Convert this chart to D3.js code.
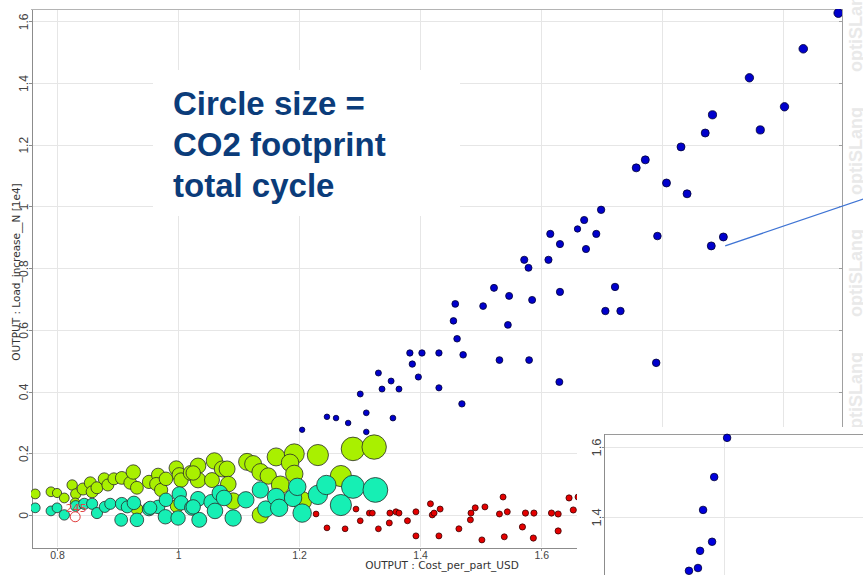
<!DOCTYPE html>
<html>
<head>
<meta charset="utf-8">
<style>
body { margin: 0; background: #fff; }
svg { display: block; }
.grid line { stroke: #e6e6e6; stroke-width: 1; shape-rendering: crispEdges; }
.axis path, .axis line { stroke: #8c8c8c; shape-rendering: crispEdges; }
.axis text { fill: #444; }
.title { font: 10.5px "DejaVu Sans", sans-serif; fill: #333; }
.note { font: bold 33px "Liberation Sans", Arial, sans-serif; fill: #0b3c7a; }
.mark { font: bold 18px "Liberation Sans", Arial, sans-serif; fill: #e9e9e9; }
</style>
</head>
<body>
<svg id="chart" width="863" height="575"></svg>
<script src="https://d3js.org/d3.v7.min.js"></script>
<script>

// Cost_per_part_USD (x), Load_increase__N [1e4] (y), CO2 footprint (size)
var blueX = [2.091,2.033,1.944,2.002,1.962,1.883,1.871,1.831,1.757,1.772,1.807,1.841,1.792,1.881,1.901,1.699,1.660,1.671,1.691,1.674,1.615,1.631,1.572,1.579,1.612,1.522,1.547,1.585,1.631,1.722,1.706,1.731,1.458,1.504,1.455,1.545,1.461,1.471,1.383,1.403,1.431,1.387,1.531,1.580,1.331,1.352,1.337,1.365,1.397,1.431,1.630,1.301,1.205,1.246,1.261,1.281,1.311,1.311,1.355,1.469,1.790];
var blueY = [1.627,1.511,1.417,1.323,1.248,1.297,1.238,1.193,1.125,1.151,1.076,1.041,0.904,0.872,0.901,0.989,0.927,0.956,0.911,0.862,0.911,0.878,0.827,0.801,0.827,0.736,0.710,0.697,0.723,0.739,0.661,0.661,0.684,0.677,0.629,0.616,0.571,0.519,0.525,0.525,0.525,0.489,0.502,0.502,0.460,0.434,0.408,0.408,0.447,0.412,0.431,0.392,0.276,0.318,0.314,0.298,0.331,0.269,0.314,0.360,0.493];
var blueCO2 = [20,18.5,17.6,17.6,16.8,16.8,16,16,16,16,16,16,14.4,16,16,13.7,10.2,13,13,13,13,13,13,12.3,13,12.3,12.3,12.3,13,13.7,13.7,13.7,11.6,11.6,10.9,11.6,10.9,10.9,10.2,10.2,10.2,10.2,11.6,11.6,9,9,9,9,9.6,9.6,12.3,9,7.3,7.8,7.8,7.8,8.4,7.8,8.4,10.2,14.4];

var redX = [1.228,1.246,1.276,1.294,1.301,1.316,1.321,1.331,1.349,1.350,1.360,1.365,1.379,1.393,1.393,1.417,1.420,1.423,1.433,1.431,1.464,1.483,1.484,1.491,1.502,1.507,1.531,1.537,1.539,1.544,1.569,1.574,1.587,1.588,1.617,1.628,1.628,1.646,1.653,1.661];
var redY = [0.003,-0.042,-0.045,0.019,-0.019,0.006,0.006,-0.045,-0.026,0.006,0.010,0.006,-0.019,-0.068,0.010,0.036,0.000,0.006,0.019,-0.068,-0.045,-0.016,0.006,0.023,-0.081,0.026,0.003,0.058,-0.071,0.010,-0.039,0.006,-0.075,0.006,0.006,0.003,-0.052,0.055,0.016,0.058];
var redCO2 = [8.4,8.4,8.4,8.4,8.4,8.4,8.4,8.4,9,9,9,9,9,9,9,9,9,9,9,9,9,9,9,9,9,9,9,9,9,9,9.6,9.6,9.6,9.6,9.6,9.6,9.6,9.6,9.6,9.6];

var limeX = [0.764,0.790,0.800,0.812,0.825,0.831,0.830,0.843,0.855,0.858,0.866,0.878,0.884,0.894,0.907,0.921,0.926,0.932,0.952,0.967,0.964,0.972,0.980,0.997,1.002,1.005,1.021,1.033,1.033,1.056,1.060,1.073,1.081,1.083,1.114,1.124,1.136,1.149,1.162,1.169,1.192,1.185,1.192,1.231,1.269,1.205,1.289,1.324,1.091,1.136,0.932,0.998,1.025];
var limeY = [0.068,0.075,0.071,0.055,0.097,0.068,0.039,0.084,0.104,0.075,0.088,0.117,0.097,0.117,0.120,0.104,0.139,0.088,0.107,0.130,0.100,0.081,0.117,0.152,0.130,0.113,0.136,0.159,0.113,0.113,0.175,0.149,0.149,0.100,0.172,0.165,0.139,0.126,0.188,0.097,0.198,0.169,0.133,0.194,0.126,0.045,0.214,0.220,0.045,0.000,0.019,0.029,0.136];
var limeCO2 = [24,24,21,24,27,27,24,36,36,36,36,36,36,36,41,41,52,41,44,44,44,44,46,52,52,52,56,61,61,56,67,64,64,61,72,72,72,67,81,81,100,76,76,112,112,90,139,149,67,67,36,44,52];

var tealX = [0.764,0.790,0.800,0.812,0.831,0.845,0.858,0.866,0.879,0.888,0.907,0.906,0.916,0.927,0.932,0.952,0.967,0.980,0.979,1.002,1.005,1.000,1.023,1.033,1.035,1.055,1.061,1.069,1.076,1.091,1.112,1.136,1.145,1.162,1.167,1.190,1.197,1.205,1.231,1.245,1.269,1.289,1.326,1.025,0.954];
var tealY = [0.023,0.013,0.023,0.000,0.029,0.036,0.036,0.006,0.026,0.036,0.036,-0.016,0.026,0.039,-0.016,0.019,0.026,0.049,-0.006,0.068,0.039,-0.010,0.023,0.052,-0.016,0.042,0.013,0.071,0.055,-0.010,0.049,0.081,0.019,0.058,0.023,0.055,0.091,0.006,0.065,0.097,0.032,0.091,0.081,0.026,0.023];
var tealCO2 = [24,24,24,27,29,31,31,31,31,31,41,41,36,46,46,46,46,46,52,52,52,52,56,56,56,56,61,61,61,67,67,67,67,76,76,76,76,85,94,94,112,132,154,52,44];

// highlighted design
var pickX = [0.830], pickY = [-0.006], pickCO2 = [25], pickLabel = ["245"];

// inset (second view of the top designs)
var insetX = [1.010,0.967,0.930,0.960,0.920,0.913,0.883];
var insetY = [1.626,1.514,1.420,1.329,1.303,1.254,1.246];
var insetCO2 = [14.4,14.4,14.4,14.4,14.4,14.4,14.4];

var xTicks = [0.8,1,1.2,1.4,1.6,1.8,2];
var yTicks = [0,0.2,0.4,0.6,0.8,1,1.2,1.4,1.6];
var insetXTicks = [1];
var insetYTicks = [1.4,1.6];

var noteLines = ["Circle size =", "CO2 footprint", "total cycle"];

function rows(xs, ys, cs) {
	return xs.map(function(d, i){ return {x: d, y: ys[i], c: cs[i]}; });
}

var svg = d3.select("#chart");
var pLeft = 31, pTop = 9, pRight = 842, pBottom = 547;

var x = d3.scaleLinear().domain([0.757, 2.097]).range([pLeft, pRight]);
var y = d3.scaleLinear().domain([-0.104, 1.64]).range([pBottom, pTop]);
var r = d3.scaleSqrt().domain([0, 225]).range([0, 15]);

svg.append("defs").append("clipPath").attr("id", "plot")
	.append("rect").attr("x", pLeft).attr("y", pTop)
	.attr("width", pRight - pLeft).attr("height", pBottom - pTop);

// grid
var grid = svg.append("g").attr("class", "grid");
grid.selectAll(".gx").data(xTicks).enter().append("line")
	.attr("x1", function(d){ return Math.round(x(d)) + 0.5; })
	.attr("x2", function(d){ return Math.round(x(d)) + 0.5; })
	.attr("y1", pTop).attr("y2", pBottom);
grid.selectAll(".gy").data(yTicks).enter().append("line")
	.attr("y1", function(d){ return Math.round(y(d)) + 0.5; })
	.attr("y2", function(d){ return Math.round(y(d)) + 0.5; })
	.attr("x1", pLeft).attr("x2", pRight);

// frame top / right
svg.append("line").attr("x1", pLeft).attr("x2", pRight).attr("y1", pTop + 0.5).attr("y2", pTop + 0.5)
	.attr("stroke", "#b4b4b4");
svg.append("line").attr("x1", pRight + 0.5).attr("x2", pRight + 0.5).attr("y1", pTop).attr("y2", pBottom)
	.attr("stroke", "#a0a0a0");
svg.selectAll(".rt").data(yTicks).enter().append("line")
	.attr("x1", pRight - 3).attr("x2", pRight)
	.attr("y1", function(d){ return Math.round(y(d)) + 0.5; })
	.attr("y2", function(d){ return Math.round(y(d)) + 0.5; })
	.attr("stroke", "#a0a0a0");

// axes
var fmt = d3.format("~g");
var gx = svg.append("g").attr("class", "axis")
	.attr("transform", "translate(0," + (pBottom + 0.5) + ")")
	.call(d3.axisBottom(x).tickValues(xTicks).tickFormat(fmt).tickSize(3).tickSizeOuter(0).tickPadding(1));
gx.selectAll("text").style("font", "10.5px 'Liberation Sans', Arial, sans-serif");

var gy = svg.append("g").attr("class", "axis")
	.attr("transform", "translate(" + (pLeft + 0.5) + ",0)")
	.call(d3.axisLeft(y).tickValues(yTicks).tickFormat(fmt).tickSize(3).tickSizeOuter(0));
// rotated tick labels, read bottom to top
gy.selectAll("text")
	.attr("transform", "translate(-4,0) rotate(-90)")
	.attr("x", 0).attr("y", 0).attr("dy", 0)
	.attr("text-anchor", "middle")
	.style("font", "12px 'Liberation Sans', Arial, sans-serif");

svg.append("text").attr("class", "title")
	.attr("x", 442).attr("y", 569).attr("text-anchor", "middle")
	.text("OUTPUT : Cost_per_part_USD");
svg.append("text").attr("class", "title")
	.attr("transform", "translate(19.5,272) rotate(-90)").attr("text-anchor", "middle")
	.text("OUTPUT : Load_increase__N [1e4]");

// note box
svg.append("rect").attr("x", 153).attr("y", 70).attr("width", 307).attr("height", 146)
	.attr("fill", "#fff");
svg.append("g").selectAll("text").data(noteLines).enter().append("text")
	.attr("class", "note")
	.attr("x", 173)
	.attr("y", function(d, i){ return 115 + i * 41; })
	.text(function(d){ return d; });

// points
var plot = svg.append("g").attr("clip-path", "url(#plot)");

function dots(data, fill, stroke, sx, sy) {
	plot.append("g").selectAll("circle").data(data).enter().append("circle")
		.attr("cx", function(d){ return sx(d.x); })
		.attr("cy", function(d){ return sy(d.y); })
		.attr("r", function(d){ return r(d.c); })
		.attr("fill", fill)
		.attr("stroke", stroke)
		.attr("stroke-width", 0.8);
}

dots(rows(limeX, limeY, limeCO2), "#a9f000", "#2a2a2a", x, y);
dots(rows(tealX, tealY, tealCO2), "#16efb4", "#2a2a2a", x, y);
dots(rows(redX, redY, redCO2), "#e40000", "#3a0000", x, y);
dots(rows(blueX, blueY, blueCO2), "#0000cc", "#000033", x, y);

var pick = rows(pickX, pickY, pickCO2);
plot.append("g").selectAll("circle").data(pick).enter().append("circle")
	.attr("cx", function(d){ return x(d.x); })
	.attr("cy", function(d){ return y(d.y); })
	.attr("r", function(d){ return r(d.c); })
	.attr("fill", "none").attr("stroke", "#e03a3a").attr("stroke-width", 1);
plot.append("g").selectAll("text").data(pick).enter().append("text")
	.attr("x", function(d){ return x(d.x) + 1; })
	.attr("y", function(d){ return y(d.y) - 5; })
	.attr("text-anchor", "middle")
	.style("font", "11px 'DejaVu Sans', sans-serif")
	.attr("fill", "#e04848")
	.text(function(d, i){ return pickLabel[i]; });

// watermark
svg.append("g").selectAll("text").data([28, 151, 273, 396]).enter().append("text")
	.attr("class", "mark")
	.attr("text-anchor", "middle")
	.attr("transform", function(d){ return "translate(862," + d + ") rotate(-90)"; })
	.text("optiSLang");

// pointer line
svg.append("line")
	.attr("x1", x(1.904)).attr("y1", y(0.872))
	.attr("x2", x(2.132)).attr("y2", y(1.024))
	.attr("stroke", "#3f74d4").attr("stroke-width", 1.3);

// inset
var ix = d3.scaleLinear().domain([0.6, 1.466]).range([604, 864]);
var iy = d3.scaleLinear().domain([1.637, 1.234]).range([434, 575]);
var inset = svg.append("g");
inset.append("rect").attr("x", 577).attr("y", 427).attr("width", 290).attr("height", 150).attr("fill", "#fff");
var igrid = inset.append("g").attr("class", "grid");
igrid.selectAll(".ix").data(insetXTicks).enter().append("line")
	.attr("x1", function(d){ return Math.round(ix(d)) + 0.5; })
	.attr("x2", function(d){ return Math.round(ix(d)) + 0.5; })
	.attr("y1", 434).attr("y2", 575);
igrid.selectAll(".iy").data(insetYTicks).enter().append("line")
	.attr("y1", function(d){ return Math.round(iy(d)) + 0.5; })
	.attr("y2", function(d){ return Math.round(iy(d)) + 0.5; })
	.attr("x1", 604).attr("x2", 863);
inset.append("line").attr("x1", 604).attr("x2", 863).attr("y1", 434.5).attr("y2", 434.5).attr("stroke", "#9a9a9a");
var giy = inset.append("g").attr("class", "axis")
	.attr("transform", "translate(604.5,0)")
	.call(d3.axisLeft(iy).tickValues(insetYTicks).tickFormat(fmt).tickSize(3).tickSizeOuter(0));
giy.select(".domain").attr("d", "M0,434V575");
giy.selectAll("text")
	.attr("transform", "translate(-4,0) rotate(-90)")
	.attr("x", 0).attr("y", 0).attr("dy", 0)
	.attr("text-anchor", "middle")
	.style("font", "13px 'Liberation Sans', Arial, sans-serif");
inset.append("g").selectAll("circle").data(rows(insetX, insetY, insetCO2)).enter().append("circle")
	.attr("cx", function(d){ return ix(d.x); })
	.attr("cy", function(d){ return iy(d.y); })
	.attr("r", function(d){ return r(d.c); })
	.attr("fill", "#0000dd").attr("stroke", "#000033").attr("stroke-width", 0.8);

</script>
</body>
</html>
